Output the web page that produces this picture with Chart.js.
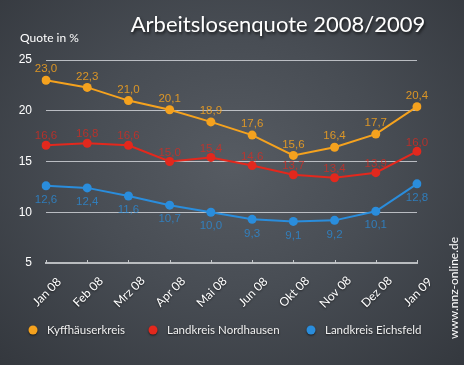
<!DOCTYPE html>
<html>
<head>
<meta charset="utf-8">
<script src="https://cdn.jsdelivr.net/npm/chart.js@4.4.1/dist/chart.umd.min.js"></script>
<style>
  html, body { margin: 0; padding: 0; }
  body {
    width: 464px; height: 365px; overflow: hidden;
    background: radial-gradient(ellipse at 50% 45%, #565b62 0%, #484d54 45%, #34383e 100%);
  }
  #wrap { position: relative; width: 464px; height: 365px; }
</style>
</head>
<body>
<div id="wrap"><canvas id="myChart" width="464" height="365"></canvas></div>
<script>
// Monate (Kategorien)
const monate = ['Jan 08', 'Feb 08', 'Mrz 08', 'Apr 08', 'Mai 08', 'Jun 08', 'Okt 08', 'Nov 08', 'Dez 08', 'Jan 09'];

// Arbeitslosenquote in %
const kyffhaeuser = [23.0, 22.3, 21.0, 20.1, 18.9, 17.6, 15.6, 16.4, 17.7, 20.4];
const nordhausen = [16.6, 16.8, 16.6, 15.0, 15.4, 14.6, 13.7, 13.4, 13.9, 16.0];
const eichsfeld = [12.6, 12.4, 11.6, 10.7, 10.0, 9.3, 9.1, 9.2, 10.1, 12.8];

const serienNamen = ['Kyffhäuserkreis', 'Landkreis Nordhausen', 'Landkreis Eichsfeld'];
const yTicks = [5, 10, 15, 20, 25];

const ORANGE = '#f5a21e';
const ROT = '#e3281d';
const BLAU = '#2a8ddc';

const SCHRIFT = 'Lato, sans-serif';

// Werte an die Punkte schreiben (mit Komma)
const werteLabels = {
  id: 'werteLabels',
  afterDatasetsDraw(chart) {
    const ctx = chart.ctx;
    ctx.save();
    ctx.font = '11.5px "Liberation Sans", Arial, sans-serif';
    ctx.textAlign = 'center';
    ctx.textBaseline = 'middle';
    chart.data.datasets.forEach((ds, i) => {
      const meta = chart.getDatasetMeta(i);
      ctx.fillStyle = ds.labelColor;
      meta.data.forEach((pt, j) => {
        const txt = ds.data[j].toFixed(1).replace('.', ',');
        ctx.fillText(txt, pt.x, pt.y + ds.labelOffset);
      });
    });
    ctx.restore();
  }
};

// Monatsbeschriftung schraeg, mittig unter dem Tick
const monatsLabels = {
  id: 'monatsLabels',
  afterDraw(chart) {
    const ctx = chart.ctx;
    const sx = chart.scales.x;
    const unten = chart.chartArea.bottom;
    ctx.save();
    ctx.fillStyle = '#ffffff';
    ctx.font = '12px ' + SCHRIFT;
    ctx.textAlign = 'center';
    ctx.textBaseline = 'middle';
    ctx.shadowColor = 'rgba(0,0,0,0.6)';
    ctx.shadowOffsetY = 1;
    ctx.shadowBlur = 2;
    monate.forEach((m, i) => {
      const x = sx.getPixelForTick(i);
      ctx.save();
      ctx.translate(x + 1, unten + 29);
      ctx.rotate(-Math.PI / 4);
      ctx.fillText(m, 0, 0);
      ctx.restore();
    });
    // kleine Striche auf der Grundlinie
    ctx.shadowColor = 'transparent';
    ctx.strokeStyle = '#c4c7ca';
    ctx.lineWidth = 1;
    monate.forEach((m, i) => {
      const x = Math.round(sx.getPixelForTick(i)) + 0.5;
      ctx.beginPath();
      ctx.moveTo(x, unten - 3);
      ctx.lineTo(x, unten);
      ctx.stroke();
    });
    ctx.restore();
  }
};

// eigene Legende
const legende = {
  id: 'legende',
  afterDraw(chart) {
    const ctx = chart.ctx;
    const startX = [47, 167, 325];
    ctx.save();
    ctx.font = '11.5px ' + SCHRIFT;
    ctx.textBaseline = 'middle';
    chart.data.datasets.forEach((ds, i) => {
      ctx.shadowColor = 'rgba(0,0,0,0.6)';
      ctx.shadowOffsetY = 1;
      ctx.shadowBlur = 2;
      ctx.fillStyle = ds.borderColor;
      ctx.beginPath();
      ctx.arc(startX[i] - 14, 330, 4.5, 0, Math.PI * 2);
      ctx.fill();
      ctx.fillStyle = '#f0f0f0';
      ctx.fillText(ds.label, startX[i], 330);
    });
    ctx.restore();
  }
};

// Titel, Achsentitel und Quelle
const texte = {
  id: 'texte',
  afterDraw(chart) {
    const ctx = chart.ctx;
    ctx.save();
    ctx.fillStyle = '#ffffff';
    ctx.shadowColor = 'rgba(0,0,0,0.7)';
    ctx.shadowOffsetX = 1;
    ctx.shadowOffsetY = 2;
    ctx.shadowBlur = 3;
    ctx.font = '22px ' + SCHRIFT;
    ctx.textAlign = 'center';
    ctx.textBaseline = 'middle';
    ctx.fillText('Arbeitslosenquote 2008/2009', 278, 25);
    ctx.shadowColor = 'transparent';
    ctx.font = '12px ' + SCHRIFT;
    ctx.textAlign = 'left';
    ctx.fillText('Quote in %', 20, 38);
    ctx.translate(454, 288);
    ctx.rotate(-Math.PI / 2);
    ctx.textAlign = 'center';
    ctx.font = '12px ' + SCHRIFT;
    ctx.fillText('www.nnz-online.de', 0, 0);
    ctx.restore();
  }
};

const ctx = document.getElementById('myChart').getContext('2d');
const myChart = new Chart(ctx, {
  type: 'line',
  data: {
    labels: monate,
    datasets: [
      { label: serienNamen[0], data: kyffhaeuser, borderColor: ORANGE, backgroundColor: ORANGE, labelColor: 'rgba(245,162,30,0.85)', labelOffset: -11 },
      { label: serienNamen[1], data: nordhausen, borderColor: ROT, backgroundColor: ROT, labelColor: 'rgba(227,40,29,0.7)', labelOffset: -9 },
      { label: serienNamen[2], data: eichsfeld, borderColor: BLAU, backgroundColor: BLAU, labelColor: 'rgba(42,141,220,0.75)', labelOffset: 14 }
    ]
  },
  options: {
    responsive: false,
    animation: false,
    layout: { padding: { top: 60, right: 47, bottom: 92, left: 0 } },
    elements: {
      line: { borderWidth: 2, tension: 0 },
      point: { radius: 4.5, borderWidth: 0 }
    },
    plugins: {
      title: { display: false },
      tooltip: { enabled: false },
      legend: { display: false }
    },
    scales: {
      x: {
        offset: false,
        grid: { display: false },
        border: { display: true, color: '#b9bcbf', width: 2 },
        ticks: { display: false },
        afterFit(scale) { scale.height = 10; }
      },
      y: {
        min: 5,
        max: 25,
        afterBuildTicks(scale) { scale.ticks = yTicks.map(v => ({ value: v })); },
        grid: {
          drawTicks: false,
          color: ctx => ctx.tick && ctx.tick.value === 5 ? 'transparent' : 'rgba(215,218,222,0.8)',
          lineWidth: 1
        },
        border: { display: false },
        ticks: {
          color: '#ffffff',
          font: { family: '"Liberation Sans", Arial, sans-serif', size: 12 },
          padding: 14
        },
        afterFit(scale) { scale.width = 46; }
      }
    }
  },
  plugins: [werteLabels, monatsLabels, legende, texte]
});
</script>
</body>
</html>
